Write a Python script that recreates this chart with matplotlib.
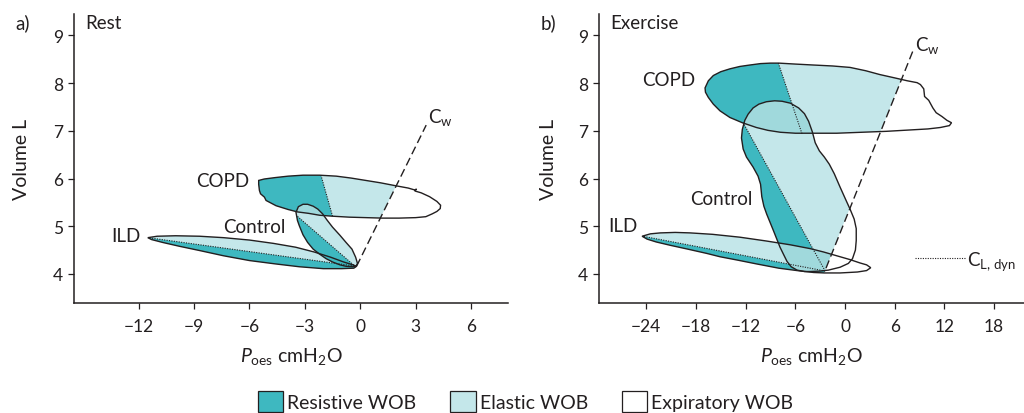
import numpy as np
import matplotlib
matplotlib.use("Agg")
import matplotlib.pyplot as plt
from matplotlib.patches import Polygon, Patch

plt.rcParams['font.family'] = ['Lato', 'DejaVu Sans']
plt.rcParams['mathtext.fontset'] = 'custom'
plt.rcParams['mathtext.rm'] = 'Lato'
plt.rcParams['mathtext.it'] = 'Lato:italic'
plt.rcParams['mathtext.bf'] = 'Lato:bold'

INK = '#231f20'
DARK = '#3eb8c0'
LIGHT = '#c4e7ea'
MEDIUM = '#a0d9dc'

# ---------------- data: Rest (P_oes cmH2O, volume L) ----------------
rest_copd_p = [-5.50, -5.20, -4.60, -3.90, -3.10, -2.20, -1.30, -0.50, 0.30, 1.10, 1.90, 2.60, 2.95,
               3.05, 2.95, 3.30, 3.75, 4.15, 4.35, 4.33, 4.15, 3.90, 3.55, 3.00, 2.10, 1.20, 0.30,
               -0.60, -1.50, -2.20, -2.80, -3.40, -3.90, -4.56, -5.10, -5.19, -5.40, -5.46, -5.50]
rest_copd_v = [5.96, 5.99, 6.02, 6.05, 6.07, 6.07, 6.05, 6.01, 5.96, 5.91, 5.85, 5.80, 5.76,
               5.78, 5.74, 5.70, 5.62, 5.52, 5.44, 5.37, 5.31, 5.26, 5.20, 5.18, 5.17, 5.17, 5.18,
               5.19, 5.21, 5.23, 5.27, 5.30, 5.35, 5.43, 5.54, 5.61, 5.68, 5.75, 5.88]
rest_copd_cl_p = [-1.50, -2.12]
rest_copd_cl_v = [5.21, 6.06]

rest_ctrl_p = [-3.48, -3.40, -3.30, -3.10, -2.85, -2.55, -2.22, -1.85, -1.50, -1.10, -0.77, -0.40, -0.23,
               -0.15, -0.25, -0.45, -0.77, -1.10, -1.50, -1.80, -2.04, -2.30, -2.55, -2.85, -3.10, -3.35]
rest_ctrl_v = [5.29, 5.12, 5.01, 4.82, 4.66, 4.52, 4.42, 4.32, 4.25, 4.19, 4.16, 4.15, 4.16,
               4.22, 4.35, 4.52, 4.66, 4.81, 4.98, 5.13, 5.26, 5.36, 5.42, 5.46, 5.46, 5.41]
rest_ctrl_cl_p = [-0.25, -3.44]
rest_ctrl_cl_v = [4.15, 5.22]

rest_ild_p = [-11.50, -11.00, -10.00, -8.70, -7.40, -6.00, -4.70, -3.50, -2.50, -1.60, -0.90, -0.40, -0.20,
              -0.35, -1.00, -2.00, -3.30, -4.60, -6.00, -7.40, -8.70, -9.80, -10.70, -11.30]
rest_ild_v = [4.76, 4.79, 4.80, 4.79, 4.76, 4.71, 4.64, 4.56, 4.46, 4.35, 4.25, 4.19, 4.16,
              4.12, 4.11, 4.11, 4.15, 4.21, 4.28, 4.38, 4.49, 4.58, 4.66, 4.72]
rest_ild_cl_p = [-0.20, -11.50]
rest_ild_cl_v = [4.16, 4.76]

rest_cw_p = [-0.20, 3.57]
rest_cw_v = [4.16, 7.12]

# ---------------- data: Exercise ----------------
ex_copd_p = [-16.90, -16.50, -15.90, -15.00, -13.90, -12.70, -11.50, -10.20, -9.00, -8.00, -6.00, -3.80,
             -1.50, 0.60, 2.50, 4.20, 6.00, 7.50, 8.70, 9.10, 9.50, 9.60, 10.10, 10.60, 11.00, 11.70,
             12.30, 12.85, 12.60, 11.50, 10.00, 8.00, 5.00, 2.00, -1.00, -3.80, -6.00, -7.80, -9.30,
             -10.70, -12.40, -13.90, -15.10, -15.90, -16.50, -16.85]
ex_copd_v = [7.90, 8.05, 8.16, 8.24, 8.30, 8.35, 8.38, 8.41, 8.42, 8.42, 8.40, 8.38,
             8.36, 8.33, 8.26, 8.18, 8.11, 8.05, 8.01, 7.97, 7.88, 7.72, 7.64, 7.48, 7.38, 7.30,
             7.22, 7.17, 7.11, 7.07, 7.04, 7.02, 6.99, 6.97, 6.95, 6.95, 6.95, 6.97, 7.01,
             7.07, 7.17, 7.28, 7.42, 7.56, 7.70, 7.81]
ex_copd_cl_p = [-5.20, -8.05]
ex_copd_cl_v = [6.94, 8.42]

ex_ctrl_p = [-8.50, -9.50, -10.40, -11.10, -11.70, -12.10, -12.40, -12.50, -12.30, -11.90, -11.10, -10.50,
             -10.20, -10.05, -9.80, -9.45, -8.65, -7.85, -7.40, -7.00, -6.50, -5.80, -4.90, -4.20, -3.00,
             -2.00, -0.60, 0.40, 0.90, 1.25, 1.35, 1.35, 1.10, 0.60, 0.10, -0.60, -1.30, -1.90, -2.50,
             -3.10, -3.60, -3.95, -4.40, -4.90, -5.60, -6.60, -7.60]
ex_ctrl_v = [7.63, 7.61, 7.56, 7.48, 7.35, 7.22, 7.03, 6.85, 6.62, 6.45, 6.24, 6.05,
             5.88, 5.62, 5.42, 5.25, 4.91, 4.56, 4.40, 4.26, 4.15, 4.08, 4.05, 4.05, 4.06,
             4.08, 4.14, 4.22, 4.32, 4.50, 4.70, 4.95, 5.15, 5.36, 5.55, 5.82, 6.10, 6.30, 6.45,
             6.58, 6.75, 6.98, 7.20, 7.36, 7.48, 7.58, 7.62]
ex_ctrl_cl_p = [-2.40, -12.30]
ex_ctrl_cl_v = [4.06, 7.17]

ex_ild_p = [-24.50, -23.50, -22.30, -20.50, -18.70, -16.00, -12.70, -9.50, -6.60, -4.20, -2.60, -1.00,
            0.60, 1.80, 2.60, 3.10, 2.60, 1.50, -0.60, -2.50, -3.80, -5.80, -8.00, -10.70, -13.00,
            -15.10, -16.70, -19.00, -21.10, -22.80, -23.90]
ex_ild_v = [4.79, 4.84, 4.86, 4.87, 4.86, 4.83, 4.77, 4.69, 4.61, 4.53, 4.46, 4.38,
            4.30, 4.23, 4.19, 4.13, 4.07, 4.04, 4.02, 4.02, 4.03, 4.07, 4.12, 4.21, 4.29,
            4.36, 4.43, 4.52, 4.60, 4.67, 4.73]
ex_ild_cl_p = [-2.40, -24.40]
ex_ild_cl_v = [4.06, 4.79]

ex_cw_p = [-2.30, 8.20]
ex_cw_v = [4.12, 8.68]

cl_key_p = [8.45, 14.50]
cl_key_v = [4.33, 4.33]

rest_xticks = [-12, -9, -6, -3, 0, 3, 6]
ex_xticks = [-24, -18, -12, -6, 0, 6, 12, 18]
yticks = [4, 5, 6, 7, 8, 9]

legend_labels = ['Resistive WOB', 'Elastic WOB', 'Expiratory WOB']

FS = 13.5      # annotation text
FS_TICK = 12.5
FS_AX = 14
FS_LEG = 14


# ---------------- helpers ----------------
def halfplane(p_line, v_line, side):
    p1 = np.array([p_line[0], v_line[0]], float)
    p2 = np.array([p_line[1], v_line[1]], float)
    d = p2 - p1
    d = d / np.hypot(*d)
    n = np.array([-d[1], d[0]]) * side
    L = 1000.0
    a = p1 - L * d
    b = p1 + L * d
    return np.array([a, b, b + L * n, a + L * n])


def poly_fill(ax, P, V, color, clip=None, z=1):
    pg = Polygon(np.column_stack([P, V]), closed=True, facecolor=color,
                 edgecolor='none', zorder=z)
    ax.add_patch(pg)
    if clip is not None:
        cp = Polygon(clip, closed=True, transform=ax.transData)
        pg.set_clip_path(cp)
    return pg


def poly_clip_fill(ax, P, V, color, clipP, clipV, z=1):
    pg = Polygon(np.column_stack([P, V]), closed=True, facecolor=color,
                 edgecolor='none', zorder=z)
    ax.add_patch(pg)
    cp = Polygon(np.column_stack([clipP, clipV]), closed=True, transform=ax.transData)
    pg.set_clip_path(cp)


def loop(ax, P, V, clp, clv, cwp, cwv, z):
    poly_fill(ax, P, V, LIGHT, z=z)
    poly_fill(ax, P, V, DARK, clip=halfplane(clp, clv, 1), z=z + 0.1)
    poly_fill(ax, P, V, 'white', clip=halfplane(cwp, cwv, -1), z=z + 0.2)


def outline(ax, P, V):
    ax.add_patch(Polygon(np.column_stack([P, V]), closed=True, fill=False,
                         edgecolor=INK, lw=1.0, zorder=10))


def dotted(ax, P, V):
    ax.plot(P, V, color=INK, lw=0.8, linestyle=(0, (1, 1.2)), zorder=11)


def style(ax, xlim, xticks, ylab_x):
    ax.set_xlim(*xlim)
    ax.set_ylim(3.39, 9.45)
    ax.set_xticks(xticks)
    ax.set_yticks(yticks)
    for s in ['top', 'right']:
        ax.spines[s].set_visible(False)
    for s in ['left', 'bottom']:
        ax.spines[s].set_linewidth(1.1)
        ax.spines[s].set_color(INK)
    ax.tick_params(axis='both', direction='out', length=4.5, width=0.9, colors=INK,
                   labelsize=FS_TICK)
    ax.tick_params(axis='x', pad=6)
    ax.tick_params(axis='y', pad=3.5)
    ax.set_ylabel('Volume L', fontsize=FS_AX, color=INK)
    ax.yaxis.set_label_coords(ylab_x, 0.5)
    ax.set_xlabel(r'$P_{\mathrm{oes}}$ cmH$_2$O', fontsize=FS_AX, color=INK)
    ax.xaxis.label.set_verticalalignment('baseline')
    ax.xaxis.set_label_coords(0.5, (304 - 362) / 289)


fig = plt.figure(figsize=(10.24, 4.14), dpi=100)
axa = fig.add_axes([74 / 1024, 1 - 304 / 414, 434 / 1024, 289 / 414])
axb = fig.add_axes([599 / 1024, 1 - 304 / 414, 425 / 1024, 289 / 414])

# ---------- Rest ----------
loop(axa, rest_copd_p, rest_copd_v, rest_copd_cl_p, rest_copd_cl_v, rest_cw_p, rest_cw_v, 1)
loop(axa, rest_ild_p, rest_ild_v, rest_ild_cl_p, rest_ild_cl_v, rest_cw_p, rest_cw_v, 2)
loop(axa, rest_ctrl_p, rest_ctrl_v, rest_ctrl_cl_p, rest_ctrl_cl_v, rest_cw_p, rest_cw_v, 3)
poly_clip_fill(axa, rest_ctrl_p, rest_ctrl_v, MEDIUM, rest_copd_p, rest_copd_v, z=4)
for P, V in [(rest_copd_p, rest_copd_v), (rest_ild_p, rest_ild_v), (rest_ctrl_p, rest_ctrl_v)]:
    outline(axa, P, V)
for P, V in [(rest_copd_cl_p, rest_copd_cl_v), (rest_ild_cl_p, rest_ild_cl_v),
             (rest_ctrl_cl_p, rest_ctrl_cl_v)]:
    dotted(axa, P, V)
axa.plot(rest_cw_p, rest_cw_v, color=INK, lw=1.0, linestyle=(0, (6, 3)), zorder=11)
style(axa, (-15.5, 8.0), rest_xticks, (30 - 74) / 434)

axa.text(-14.9, 9.28, 'Rest', ha='left', va='center', fontsize=FS, color=INK)
axa.text(-6.0, 5.95, 'COPD', ha='right', va='center', fontsize=FS, color=INK)
axa.text(-5.76, 4.99, 'Control', ha='center', va='center', fontsize=FS, color=INK)
axa.text(-11.9, 4.80, 'ILD', ha='right', va='center', fontsize=FS, color=INK)
axa.text(3.68, 7.30, r'C$_\mathrm{w}$', ha='left', va='center', fontsize=FS, color=INK)

# ---------- Exercise ----------
loop(axb, ex_copd_p, ex_copd_v, ex_copd_cl_p, ex_copd_cl_v, ex_cw_p, ex_cw_v, 1)
loop(axb, ex_ild_p, ex_ild_v, ex_ild_cl_p, ex_ild_cl_v, ex_cw_p, ex_cw_v, 2)
loop(axb, ex_ctrl_p, ex_ctrl_v, ex_ctrl_cl_p, ex_ctrl_cl_v, ex_cw_p, ex_cw_v, 3)
poly_clip_fill(axb, ex_ctrl_p, ex_ctrl_v, MEDIUM, ex_copd_p, ex_copd_v, z=4)
poly_clip_fill(axb, ex_ctrl_p, ex_ctrl_v, MEDIUM, ex_ild_p, ex_ild_v, z=4)
poly_fill(axb, ex_ctrl_p, ex_ctrl_v, 'white', clip=halfplane(ex_cw_p, ex_cw_v, -1), z=5)
for P, V in [(ex_copd_p, ex_copd_v), (ex_ild_p, ex_ild_v), (ex_ctrl_p, ex_ctrl_v)]:
    outline(axb, P, V)
for P, V in [(ex_copd_cl_p, ex_copd_cl_v), (ex_ild_cl_p, ex_ild_cl_v),
             (ex_ctrl_cl_p, ex_ctrl_cl_v)]:
    dotted(axb, P, V)
axb.plot(ex_cw_p, ex_cw_v, color=INK, lw=1.0, linestyle=(0, (6, 3)), zorder=11)
dotted(axb, cl_key_p, cl_key_v)
style(axb, (-29.7, 21.6), ex_xticks, (557 - 599) / 425)

axb.text(-28.3, 9.28, 'Exercise', ha='left', va='center', fontsize=FS, color=INK)
axb.text(-18.1, 8.07, 'COPD', ha='right', va='center', fontsize=FS, color=INK)
axb.text(-11.2, 5.59, 'Control', ha='right', va='center', fontsize=FS, color=INK)
axb.text(-25.0, 5.01, 'ILD', ha='right', va='center', fontsize=FS, color=INK)
axb.text(8.4, 8.80, r'C$_\mathrm{w}$', ha='left', va='center', fontsize=FS, color=INK)
axb.text(14.7, 4.28, r'C$_\mathrm{L,\,dyn}$', ha='left', va='center', fontsize=FS, color=INK)

fig.text(15 / 1024, 1 - 23 / 414, 'a)', ha='left', va='center', fontsize=FS, color=INK)
fig.text(541 / 1024, 1 - 23 / 414, 'b)', ha='left', va='center', fontsize=FS, color=INK)

handles = [Patch(facecolor=c, edgecolor=INK, lw=0.9) for c in [DARK, LIGHT, 'white']]
fig.legend(handles, legend_labels, loc='center', bbox_to_anchor=(525.5 / 1024, (414 - 402.5) / 414),
           ncol=3, frameon=False, fontsize=FS_LEG, handlelength=1.3, handleheight=1.35,
           handletextpad=0.2, columnspacing=1.75, labelcolor=INK, borderpad=0, borderaxespad=0)

fig.savefig('out.png', dpi=100)
